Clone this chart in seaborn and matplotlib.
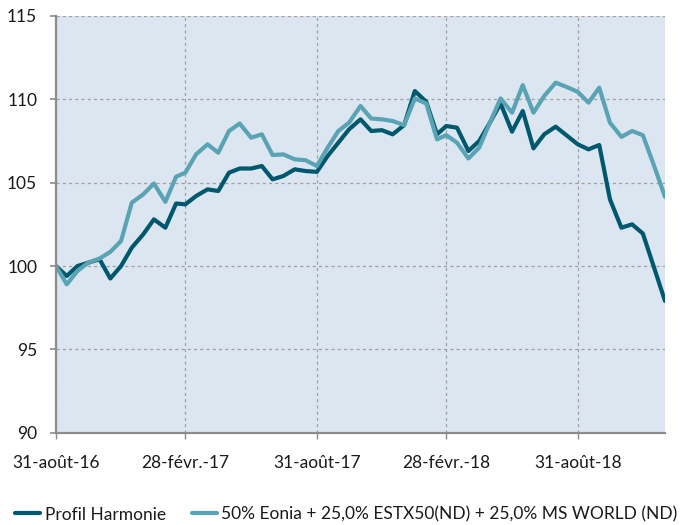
import numpy as np
import pandas as pd
import matplotlib
matplotlib.use("Agg")
import matplotlib.pyplot as plt
import matplotlib.dates as mdates
import seaborn as sns

# ---- data ----
series_names = ["Profil Harmonie",
                "50% Eonia + 25,0% ESTX50(ND) + 25,0% MS WORLD (ND)"]

profil_harmonie = [
    100.0, 99.4, 100.0, 100.2, 100.4, 99.25, 100.0, 101.1, 101.9, 102.8,
    102.3, 103.75, 103.7, 104.2, 104.6, 104.5, 105.6, 105.85, 105.85, 106.0,
    105.2, 105.4, 105.8, 105.7, 105.65, 106.6, 107.4, 108.2, 108.8, 108.1,
    108.15, 107.9, 108.45, 110.5, 109.85, 107.9, 108.4, 108.3, 106.9, 107.5,
    108.6, 109.75, 108.06, 109.3, 107.06, 107.9, 108.36, 107.85, 107.3, 107.0,
    107.26, 104.0, 102.3, 102.5, 101.95, 100.0, 97.9,
]

benchmark = [
    100.0, 98.9, 99.7, 100.2, 100.45, 100.85, 101.5, 103.8, 104.3, 104.95,
    103.85, 105.36, 105.6, 106.7, 107.3, 106.8, 108.1, 108.55, 107.7, 107.9,
    106.66, 106.7, 106.4, 106.35, 106.0, 107.1, 108.1, 108.6, 109.6, 108.85,
    108.8, 108.7, 108.45, 110.05, 109.75, 107.6, 107.85, 107.4, 106.45, 107.1,
    108.6, 110.05, 109.2, 110.85, 109.2, 110.2, 111.0, 110.75, 110.45, 109.8,
    110.7, 108.6, 107.75, 108.1, 107.85, 106.1, 104.15,
]

try:
    dates = pd.date_range("2016-08-31", "2018-12-31", freq="SME")
except Exception:
    dates = pd.date_range("2016-08-31", "2018-12-31", freq="SM")

tick_dates = pd.to_datetime(["2016-08-31", "2017-02-28", "2017-08-31",
                             "2018-02-28", "2018-08-31"])
tick_labels = ["31-août-16", "28-févr.-17", "31-août-17",
               "28-févr.-18", "31-août-18"]
y_ticks = [90, 95, 100, 105, 110, 115]

colors = ["#00586f", "#5aa3b4"]

df = pd.DataFrame({
    "date": list(dates) * 2,
    "value": profil_harmonie + benchmark,
    "serie": [series_names[0]] * len(dates) + [series_names[1]] * len(dates),
})

# ---- figure ----
sns.set_style("white")
plt.rcParams["font.family"] = ["Lato", "DejaVu Sans"]

fig = plt.figure(figsize=(6.86, 5.25), dpi=100)
ax = fig.add_axes([56 / 686, 1 - 432.7 / 525, (665 - 56) / 686, (432.7 - 16) / 525])
ax.set_facecolor("#dce6f1")

sns.lineplot(data=df, x="date", y="value", hue="serie", hue_order=series_names,
             palette=colors, linewidth=3.0, ax=ax, legend=True, zorder=3)

ax.set_xlim(dates[0], dates[-1])
ax.set_ylim(90, 115)
ax.set_xticks(tick_dates)
ax.set_xticklabels(tick_labels)
ax.set_yticks(y_ticks)
ax.set_yticklabels([str(v) for v in y_ticks])
ax.set_xlabel("")
ax.set_ylabel("")

ax.grid(True, color="#a0a0a0", linestyle=(0, (2.5, 2.5)), linewidth=0.9, zorder=0)
ax.set_axisbelow(True)

for s in ["top", "right"]:
    ax.spines[s].set_visible(False)
for s in ["left", "bottom"]:
    ax.spines[s].set_color("#8c8c8c")
    ax.spines[s].set_linewidth(1.6)
    ax.spines[s].set_zorder(4)

ax.tick_params(axis="y", direction="out", length=4.5, width=1.2, color="#8c8c8c",
               pad=9, labelsize=12.5, labelcolor="#1a1a1a", left=True)
ax.tick_params(axis="x", direction="out", length=4, width=1.0, color="#8c8c8c",
               pad=12, labelsize=12.5, labelcolor="#1a1a1a", bottom=True)

handles, labels = ax.get_legend_handles_labels()
ax.legend_.remove()
leg = fig.legend(handles, labels, loc="center", bbox_to_anchor=(0.505, 0.02),
                 ncol=2, frameon=False, fontsize=12.5, handlelength=1.45,
                 handletextpad=0.25, columnspacing=1.5)
for line in leg.get_lines():
    line.set_linewidth(3.0)
for t in leg.get_texts():
    t.set_color("#1a1a1a")

fig.savefig("out.png", dpi=100, facecolor="white")
